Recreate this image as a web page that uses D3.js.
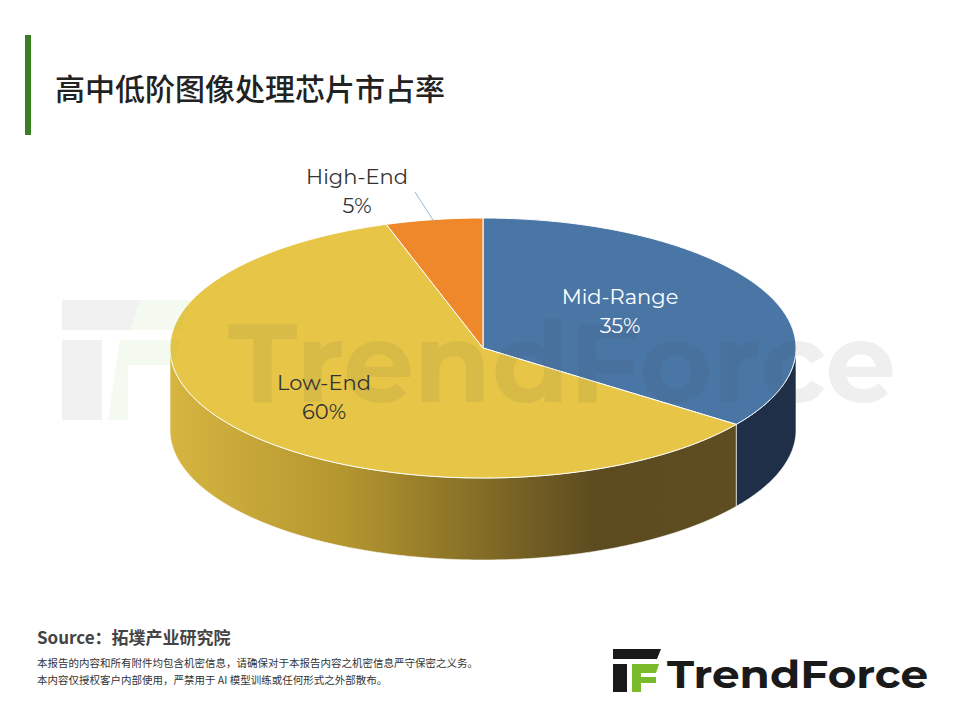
<!DOCTYPE html>
<html>
<head>
<meta charset="utf-8">
<script src="https://d3js.org/d3.v7.min.js"></script>
<style>body{margin:0;background:#fff}</style>
</head>
<body>
<script>
const categories = ["Mid-Range", "Low-End", "High-End"];
const shares = [35, 60, 5];
const topColors = ["#4a76a6", "#e6c547", "#ee882b"];
const sideColors = ["#1f2f48", "url(#yellowSide)", "#9a5516"];

const W = 960, H = 720;
const svg = d3.select("body").append("svg").attr("width", W).attr("height", H)
  .style("font-family", "'Noto Sans CJK SC','Noto Sans',sans-serif");

const defs = svg.append("defs");
const g1 = defs.append("linearGradient").attr("id", "yellowSide")
  .attr("gradientUnits", "userSpaceOnUse").attr("x1", 170).attr("x2", 760).attr("y1", 0).attr("y2", 0);
g1.append("stop").attr("offset", "0%").attr("stop-color", "#d6b540");
g1.append("stop").attr("offset", "30%").attr("stop-color", "#b3952f");
g1.append("stop").attr("offset", "72%").attr("stop-color", "#5c4b1f");
g1.append("stop").attr("offset", "100%").attr("stop-color", "#5e4e21");

// title
svg.append("rect").attr("x", 25).attr("y", 35).attr("width", 6).attr("height", 100).attr("fill", "#3b7d23");
svg.append("text").attr("x", 55).attr("y", 100).attr("font-size", 30).attr("font-weight", 500)
  .attr("fill", "#222").text("高中低阶图像处理芯片市占率");

// pie
const cx = 483, cy = 348, rx = 313, ry = 130, depth = 82;
const pt = a => [cx + rx * Math.sin(a), cy - ry * Math.cos(a)];
const arcs = d3.pie().sort(null)(shares);
const line = d3.line();

function arcPts(a0, a1) {
  const n = Math.max(2, Math.ceil((a1 - a0) / 0.01));
  return d3.range(n + 1).map(i => pt(a0 + (a1 - a0) * i / n));
}

const sides = svg.append("g");
arcs.forEach((d, i) => {
  const a0 = Math.max(d.startAngle, Math.PI / 2), a1 = Math.min(d.endAngle, 3 * Math.PI / 2);
  if (a1 <= a0) return;
  const top = arcPts(a0, a1);
  const bot = top.slice().reverse().map(p => [p[0], p[1] + depth]);
  sides.append("path").attr("d", line(top.concat(bot)) + "Z").attr("fill", sideColors[i])
    .attr("stroke", "#fff").attr("stroke-width", 0.6);
});

const tops = svg.append("g");
arcs.forEach((d, i) => {
  const pts = [[cx, cy]].concat(arcPts(d.startAngle, d.endAngle));
  tops.append("path").attr("d", line(pts) + "Z").attr("fill", topColors[i])
    .attr("stroke", "#fff").attr("stroke-width", 1);
});

// watermark (over the pie, very faint)
const wm = svg.append("g").attr("opacity", 0.08);
wm.append("path").attr("d", "M62,300 h120 l-10,30 h-110 z M62,340 h40 v80 h-40 z").attr("fill", "#555");
wm.append("path").attr("d", "M120,340 h60 l-8,25 h-44 v55 h-20 z M140,300 h50 l-10,30 h-50z").attr("fill", "#8bc34a");
wm.append("text").attr("x", 228).attr("y", 402).attr("font-size", 112).attr("font-weight", 700)
  .attr("font-family", "Montserrat,'Open Sans',sans-serif").attr("fill", "#444").text("TrendForce");

// labels
const labels = [
  {x: 620, y: 304, c: "#fff"},
  {x: 324, y: 390, c: "#333"},
  {x: 357, y: 184, c: "#333"}
];
arcs.forEach((d, i) => {
  const t = svg.append("text").attr("text-anchor", "middle").attr("font-size", 21)
    .attr("font-family", "Montserrat,'Open Sans',sans-serif").attr("fill", labels[i].c);
  t.append("tspan").attr("x", labels[i].x).attr("y", labels[i].y).text(categories[i]);
  t.append("tspan").attr("x", labels[i].x).attr("dy", 29).text(shares[i] + "%");
});
const hi = arcs[2], hm = pt((hi.startAngle + hi.endAngle) / 2);
svg.append("line").attr("x1", 415).attr("y1", 192).attr("x2", hm[0]).attr("y2", hm[1] + 2)
  .attr("stroke", "#9fb6d6").attr("stroke-width", 1);

// footer
svg.append("text").attr("x", 37).attr("y", 644).attr("font-size", 17).attr("font-weight", 700)
  .attr("fill", "#444").text("Source：拓墣产业研究院");
svg.append("text").attr("x", 37).attr("y", 667).attr("font-size", 10.5).attr("fill", "#333")
  .text("本报告的内容和所有附件均包含机密信息，请确保对于本报告内容之机密信息严守保密之义务。");
svg.append("text").attr("x", 37).attr("y", 684).attr("font-size", 10.5).attr("fill", "#333")
  .text("本内容仅授权客户内部使用，严禁用于 AI 模型训练或任何形式之外部散布。");

const logo = svg.append("g");
logo.append("path").attr("d", "M613,649 h48 l-4,10 h-44 z M613,664 h14 v28 h-14 z").attr("fill", "#1a1a1a");
logo.append("path").attr("d", "M632,664 h27 l-3,9 h-15 v19 h-9 z M640,677 h16 v6 h-16z").attr("fill", "#7ab929");
logo.append("text").attr("x", 667).attr("y", 688).attr("font-size", 39).attr("font-weight", 700)
  .attr("textLength", 261).attr("lengthAdjust", "spacingAndGlyphs")
  .attr("font-family", "Montserrat,'Open Sans',sans-serif").attr("fill", "#1a1a1a").text("TrendForce");
</script>
</body>
</html>
